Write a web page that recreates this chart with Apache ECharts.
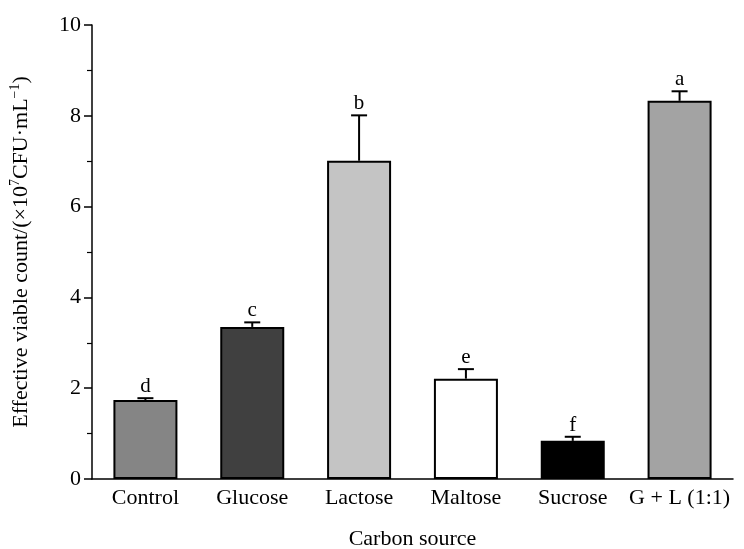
<!DOCTYPE html>
<html><head><meta charset="utf-8">
<script src="https://cdn.jsdelivr.net/npm/echarts@6/dist/echarts.min.js"></script>
<style>html,body{margin:0;padding:0;background:#fff}#c{width:744px;height:549px}</style>
</head><body><div id="c"></div>
<script>
const categories = ['Control', 'Glucose', 'Lactose', 'Maltose', 'Sucrose', 'G + L (1:1)'];
const values = [1.74, 3.35, 7.01, 2.21, 0.84, 8.33];
const errors = [0.04, 0.10, 1.0, 0.21, 0.09, 0.21];
const letters = ['d', 'c', 'b', 'e', 'f', 'a'];
const barColors = ['#858585', '#404040', '#c4c4c4', '#ffffff', '#000000', '#a3a3a3'];
const yTicks = [0, 2, 4, 6, 8, 10];

const font = 'Liberation Serif';
const chart = echarts.init(document.getElementById('c'));
chart.setOption({
  backgroundColor: '#fff',
  animation: false,
  grid: { left: 92, right: 11, top: 25, bottom: 70, containLabel: false, outerBoundsMode: 'none' },
  xAxis: {
    type: 'category', data: categories,
    name: 'Carbon source', nameLocation: 'middle', nameGap: 49,
    nameTextStyle: { fontFamily: font, fontSize: 22, color: '#000' },
    axisLine: { lineStyle: { color: '#000', width: 1.5 } },
    axisTick: { alignWithLabel: true, length: 7, lineStyle: { color: '#000', width: 1.5 } },
    axisLabel: { interval: 0, hideOverlap: false, fontFamily: font, fontSize: 22, color: '#000', margin: 8 }
  },
  yAxis: {
    type: 'value', min: 0, max: 10, interval: 2,
    name: '{n|Effective viable count/(×10}{s|7}{n|CFU·mL}{s|−1}{n|)}',
    nameLocation: 'middle', nameGap: 60,
    nameTextStyle: {
      fontFamily: font, fontSize: 22, color: '#000',
      rich: {
        n: { fontFamily: font, fontSize: 22, color: '#000', lineHeight: 24, verticalAlign: 'bottom' },
        s: { fontFamily: font, fontSize: 14, color: '#000', lineHeight: 24, verticalAlign: 'top' }
      }
    },
    axisLine: { show: true, lineStyle: { color: '#000', width: 1.5 } },
    axisTick: { show: true, length: 8, lineStyle: { color: '#000', width: 1.5 } },
    minorTick: { show: true, splitNumber: 2, length: 5, lineStyle: { color: '#000', width: 1.2 } },
    splitLine: { show: false },
    axisLabel: { fontFamily: font, fontSize: 22, color: '#000', margin: 11,
      formatter: v => yTicks.includes(v) ? String(v) : '' }
  },
  series: [
    {
      type: 'bar', barWidth: 64,
      data: values.map((v, i) => ({ value: v, itemStyle: { color: barColors[i] } })),
      itemStyle: { borderColor: '#000', borderWidth: 2 }
    },
    {
      type: 'custom',
      data: values.map((v, i) => [i, v, v + errors[i], letters[i]]),
      renderItem: function (params, api) {
        const x = api.coord([api.value(0), api.value(1)])[0];
        const yb = api.coord([api.value(0), api.value(1)])[1];
        const yt = api.coord([api.value(0), api.value(2)])[1];
        const ls = { stroke: '#000', lineWidth: 2 };
        return {
          type: 'group', children: [
            { type: 'line', shape: { x1: x, y1: yb, x2: x, y2: yt }, style: ls },
            { type: 'line', shape: { x1: x - 8, y1: yt, x2: x + 8, y2: yt }, style: ls },
            { type: 'text', style: { text: api.value(3), x: x, y: yt - 1, align: 'center', verticalAlign: 'bottom',
              font: '21px "' + font + '"', fill: '#000' } }
          ]
        };
      },
      z: 5
    }
  ]
});
</script></body></html>
